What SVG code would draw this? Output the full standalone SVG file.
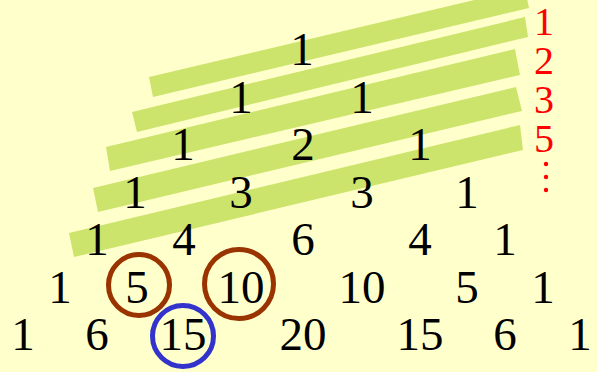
<svg xmlns="http://www.w3.org/2000/svg" width="597" height="372" viewBox="0 0 597 372">
<style>
.n{font-size:47px;fill:#000000;text-anchor:middle}
.r{font-size:40px;fill:#FF0000;text-anchor:middle}
.bar{fill:#CDE46C}
.ring{fill:none;stroke-width:5}
</style>
<rect width="597" height="372" fill="#FFFFCC"/>
<g id="bars">
<polygon class="bar" points="149,77 525,-12 529,8 153,97"/>
<polygon class="bar" points="132,112 525,17 528,37 137,132"/>
<polygon class="bar" points="106,147 515,49 520,75 110,171"/>
<polygon class="bar" points="93,188 516,87 522,111 98,212"/>
<polygon class="bar" points="69,233 520,125 523,150 74,257"/>
</g>
<g id="triangle" font-family="'Liberation Serif', 'Times New Roman', 'DejaVu Serif', serif">
<g id="row0"><text class="n" x="302" y="65">1</text></g>
<g id="row1"><text class="n" x="241" y="112.5">1</text><text class="n" x="362" y="112.5">1</text></g>
<g id="row2"><text class="n" x="183" y="160">1</text><text class="n" x="303" y="160">2</text><text class="n" x="420" y="160">1</text></g>
<g id="row3"><text class="n" x="135" y="207.5">1</text><text class="n" x="241" y="207.5">3</text><text class="n" x="362" y="207.5">3</text><text class="n" x="467" y="207.5">1</text></g>
<g id="row4"><text class="n" x="97" y="255">1</text><text class="n" x="184" y="255">4</text><text class="n" x="303" y="255">6</text><text class="n" x="420" y="255">4</text><text class="n" x="505" y="255">1</text></g>
<g id="row5"><text class="n" x="60" y="302.5">1</text><text class="n" x="137" y="302.5">5</text><text class="n" x="241" y="302.5">10</text><text class="n" x="362" y="302.5">10</text><text class="n" x="467" y="302.5">5</text><text class="n" x="543" y="302.5">1</text></g>
<g id="row6"><text class="n" x="23" y="350">1</text><text class="n" x="97" y="350">6</text><text class="n" x="183" y="350">15</text><text class="n" x="303" y="350">20</text><text class="n" x="420" y="350">15</text><text class="n" x="505" y="350">6</text><text class="n" x="580" y="350">1</text></g>
</g>
<g id="sums" font-family="'Liberation Serif', 'Times New Roman', 'DejaVu Serif', serif">
<text class="r" x="544" y="35">1</text>
<text class="r" x="544" y="74">2</text>
<text class="r" x="544" y="113">3</text>
<text class="r" x="544" y="152">5</text>
<circle cx="546" cy="164" r="2.2" fill="#FF0000"/>
<circle cx="546" cy="177" r="2.2" fill="#FF0000"/>
<circle cx="546" cy="190" r="2.2" fill="#FF0000"/>
</g>
<g id="rings">
<circle class="ring" cx="139" cy="285" r="30.5" stroke="#993300"/>
<circle class="ring" cx="239" cy="284" r="34.5" stroke="#993300"/>
<circle class="ring" cx="183" cy="336" r="30.5" stroke="#3333CC"/>
</g>
</svg>
